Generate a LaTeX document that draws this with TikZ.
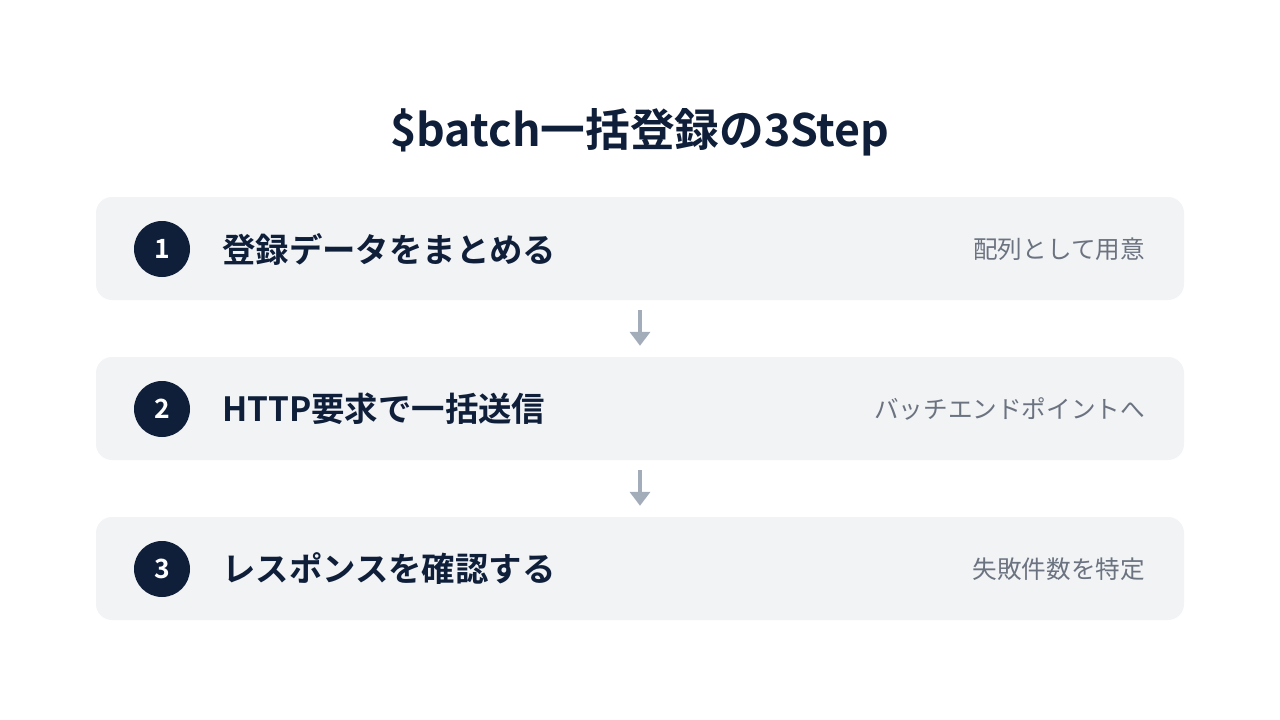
\documentclass[tikz,border=0pt]{standalone}
\usepackage{fontspec}
\setmainfont{Noto Sans CJK JP}[BoldFont={Noto Sans CJK JP Bold}]
\usepackage{tikz}
\usetikzlibrary{calc,positioning,arrows.meta}
\definecolor{stepnavy}{HTML}{0F1F3A}
\definecolor{steplight}{HTML}{F1F3F5}
\definecolor{stepgray}{HTML}{6B7280}
\definecolor{arrowgray}{HTML}{A3ADBA}

\tikzset{
  stepbox/.style={fill=steplight, rounded corners=16pt, minimum width=1088pt,
    minimum height=103pt, inner sep=0pt},
  stepnum/.style={circle, fill=stepnavy, minimum size=56pt, inner sep=0pt,
    text=white, font=\bfseries\fontsize{26.5}{30}\selectfont},
  steptitle/.style={anchor=west, text=stepnavy, inner sep=0pt,
    font=\bfseries\fontsize{33.4}{40}\selectfont},
  stepnote/.style={anchor=east, text=stepgray, inner sep=0pt,
    font=\fontsize{24.6}{29}\selectfont},
  flowarrow/.style={draw=arrowgray, line width=4pt,
    -{Triangle[width=20pt,length=14pt]}, shorten <=10pt, shorten >=11pt}
}

\begin{document}
\begin{tikzpicture}[x=1pt, y=-1pt]
  \useasboundingbox[fill=white] (0,0) rectangle (1280,720);

  % title
  \node[text=stepnavy, font=\bfseries\fontsize{44.7}{52}\selectfont] (title) at (640,132) {\$batch一括登録の3Step};

  % step boxes
  \node[stepbox] (box1) at (640,248.5) {};
  \node[stepbox] (box2) at (640,408.5) {};
  \node[stepbox] (box3) at (640,568.5) {};

  \node[stepnum] (num1) at (162,249) {1};
  \node[stepnum] (num2) at (162,409) {2};
  \node[stepnum] (num3) at (162,569) {3};

  \node[steptitle] (title1) at (222,249) {登録データをまとめる};
  \node[steptitle] (title2) at (222,409) {HTTP要求で一括送信};
  \node[steptitle] (title3) at (222,569) {レスポンスを確認する};

  \node[stepnote] (note1) at (1145,249) {配列として用意};
  \node[stepnote] (note2) at (1145,409) {バッチエンドポイントへ};
  \node[stepnote] (note3) at (1145,569) {失敗件数を特定};

  % arrows between steps
  \draw[flowarrow] (box1.south) -- (box2.north);
  \draw[flowarrow] (box2.south) -- (box3.north);
\end{tikzpicture}
\end{document}
